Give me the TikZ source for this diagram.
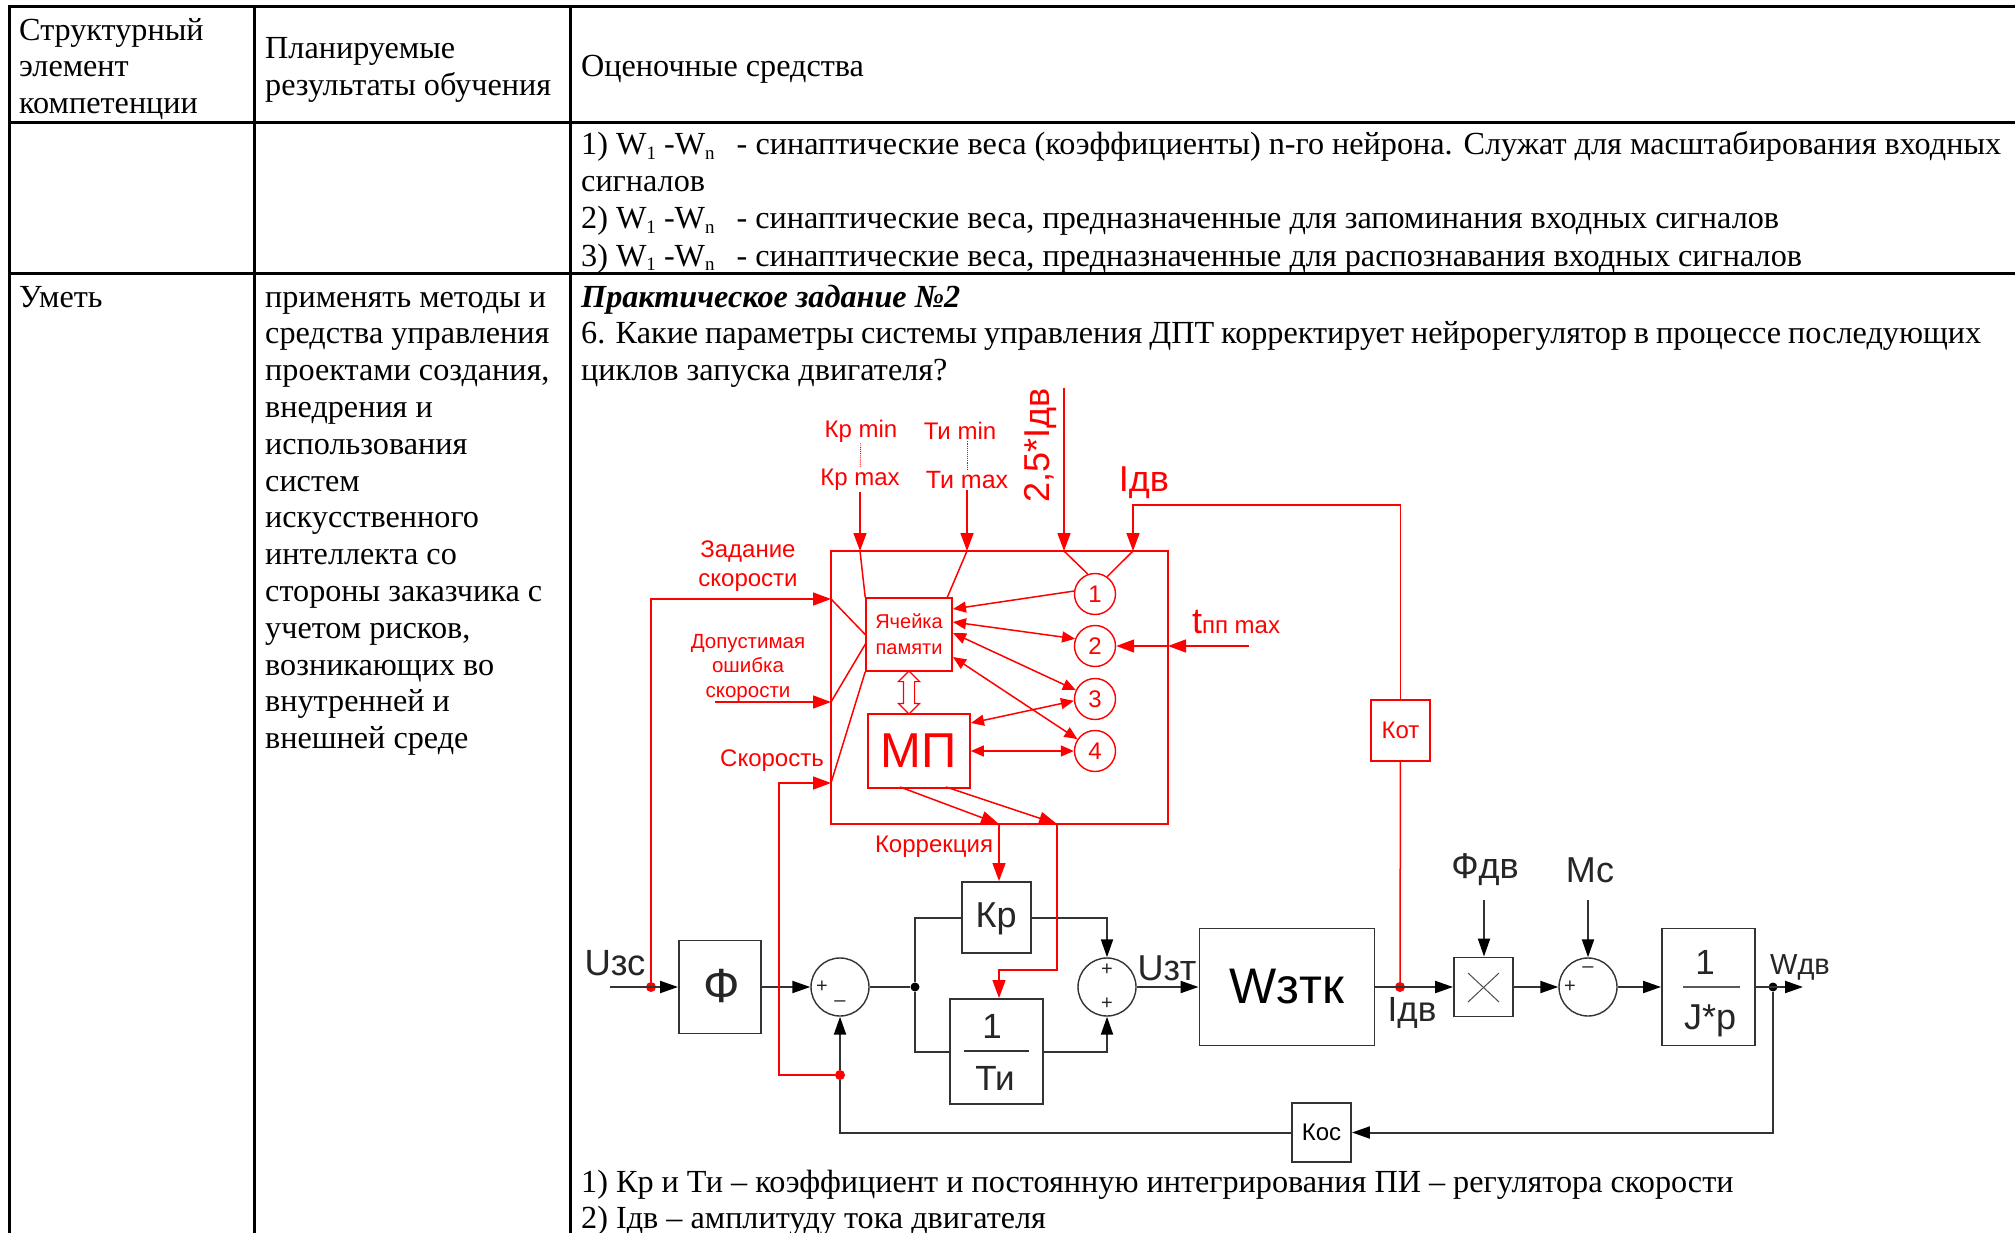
\documentclass[tikz,border=0pt]{standalone}
\usepackage{fontspec}
\setmainfont{Liberation Serif}
\setsansfont{Liberation Sans}
\usepackage{tikz}
\usetikzlibrary{arrows.meta,shapes.arrows}
\newcommand{\sz}[1]{\fontsize{#1}{37}\selectfont}
\newcommand{\subidx}[1]{\raisebox{-5pt}{\fontsize{19}{19}\selectfont #1}}
\newcommand{\wrange}{W\subidx{1} -W\subidx{n}\hspace{22pt}}
\tikzset{
	tbl/.style={anchor=base west, inner sep=0pt, font=\sz{32.2}},
	tableline/.style={line width=3pt, black},
	lbl/.style={inner sep=1pt, font=\sffamily\fontsize{#1}{29}\selectfont, text=black!85},
	rlbl/.style={inner sep=1pt, font=\sffamily\fontsize{#1}{29}\selectfont, text=red, align=center},
	block/.style={draw=black!80, line width=1.9pt, inner sep=0pt},
	rblock/.style={draw=red, line width=1.6pt, inner sep=0pt},
	summer/.style={draw=black!80, line width=1.4pt, circle, inner sep=0pt, minimum size=58pt},
	rcircle/.style={draw=red, line width=1.4pt, circle, inner sep=0pt, minimum size=41pt, text=red, font=\sffamily\fontsize{24}{29}\selectfont},
	blackdot/.style={circle, fill=black, inner sep=0pt, minimum size=9pt},
	reddot/.style={circle, fill=red, inner sep=0pt, minimum size=10pt},
	line/.style={draw=black!80, line width=2pt},
	wire/.style={line, -{Triangle[length=18pt,width=12pt,color=black]}},
	rline/.style={draw=red, line width=1.5pt},
	rwire/.style={rline, -{Triangle[length=18pt,width=13pt]}},
	rboth/.style={rline, {Triangle[length=13pt,width=11pt]}-{Triangle[length=13pt,width=11pt]}},
	rin/.style={rline, -{Triangle[length=13pt,width=11pt]}},
	rdots/.style={draw=red, line width=0.9pt, densely dotted}
}

\begin{document}
\begin{tikzpicture}[x=1pt, y=-1pt]
	\useasboundingbox (0,0) rectangle (2015,1233);

	% Table rules
	\foreach \y in {7,123,274}
		\draw[tableline] (8,\y) -- (2015,\y);
	\foreach \x in {9,254,570}
		\draw[tableline] (\x,7) -- (\x,1233);

	% Header row
	\node[tbl] (heada) at (19,41) {Структурный};
	\node[tbl] (headb) at (19,77) {элемент};
	\node[tbl] (headc) at (19,114) {компетенции};
	\node[tbl] (headd) at (265,59) {Планируемые};
	\node[tbl] (heade) at (265,96) {результаты обучения};
	\node[tbl] (headf) at (581,77) {Оценочные средства};

	% Answers of the previous question
	\node[tbl] (ansa) at (581,155) {\makebox[1420pt][s]{1) \wrange - синаптические веса (коэффициенты) n-го нейрона. Служат для масштабирования входных}};
	\node[tbl] (ansb) at (581,192) {сигналов};
	\node[tbl] (ansc) at (581,229) {2) \wrange - синаптические веса, предназначенные для запоминания входных сигналов};
	\node[tbl] (ansd) at (581,266) {3) \wrange - синаптические веса, предназначенные для распознавания входных сигналов};

	% Left columns of the last row
	\node[tbl] (skill) at (19,307) {Уметь};
	\foreach \txt [count=\i] in {применять методы и, средства управления, {проектами создания,}, внедрения и, использования, систем, искусственного, интеллекта со, стороны заказчика с, {учетом рисков,}, возникающих во, внутренней и, внешней среде}
		\node[tbl] (goal\i) at (265,{307+36.8*(\i-1)}) {\txt};

	% Question text
	\node[tbl] (taskhead) at (581,307) {\textbf{\textit{Практическое задание №2}}};
	\node[tbl] (taska) at (581,343) {\makebox[1400pt][s]{6. Какие параметры системы управления ДПТ корректирует нейрорегулятор в процессе последующих}};
	\node[tbl] (taskb) at (581,380) {циклов запуска двигателя?};
	\node[tbl] (repla) at (581,1192) {1) Кр и Ти – коэффициент и постоянную интегрирования ПИ – регулятора скорости};
	\node[tbl] (replb) at (581,1228) {2) Iдв – амплитуду тока двигателя};

	% Black control loop
	\node[block, minimum width=82pt, minimum height=93pt] (phi) at (720,987) {};
	\node[lbl=48] (phitxt) at (722,986) {Ф};
	\node[summer] (sa) at (840,987) {};
	\node[lbl=20] (saplus) at (822,987) {+};
	\node[lbl=20] (saminus) at (840,1004) {–};
	\node[block, minimum width=69pt, minimum height=71pt] (kr) at (996.5,917.5) {};
	\node[lbl=36] (krtxt) at (996,919) {Кр};
	\node[block, minimum width=93pt, minimum height=105pt] (ti) at (996.5,1051.5) {};
	\node[lbl=35] (tinum) at (992,1026) {1};
	\node[lbl=35] (tiden) at (995,1078) {Ти};
	\draw[line] (964,1051) -- (1029,1051);
	\node[summer] (sb) at (1107,987) {};
	\node[lbl=20] (sbplusa) at (1107,970) {+};
	\node[lbl=20] (sbplusb) at (1107,1004) {+};
	\node[block, minimum width=175pt, minimum height=117pt, font=\sffamily\fontsize{50}{56}\selectfont] (wzt) at (1287,987) {Wзтк};
	\node[block, minimum width=59pt, minimum height=59pt] (mult) at (1483.5,987) {};
	\draw[draw=black!70, line width=1pt] (1468,973) -- (1499,1002);
	\draw[draw=black!70, line width=1pt] (1499,973) -- (1468,1002);
	\node[summer] (sc) at (1588,987) {};
	\node[lbl=20] (scplus) at (1570,987) {+};
	\node[lbl=20] (scminus) at (1588,970) {–};
	\node[block, minimum width=93pt, minimum height=117pt] (intg) at (1708.5,987) {};
	\node[lbl=35] (intnum) at (1705,962) {1};
	\node[lbl=36] (intden) at (1710,1021) {J*p};
	\draw[line, line width=2.4pt, draw=black!65] (1683,987) -- (1740,987);
	\node[block, minimum width=59pt, minimum height=59pt, font=\sffamily\fontsize{24}{29}\selectfont] (kos) at (1321.5,1132.5) {Кос};

	\node[lbl=36.5] (uzs) at (615,963) {Uзс};
	\node[lbl=36] (uzt) at (1167,968) {Uзт};
	\node[lbl=35] (idvb) at (1412,1013) {Iдв};
	\node[lbl=36] (fdv) at (1485,870) {Фдв};
	\node[lbl=36] (mc) at (1590,870) {Мс};
	\node[lbl=29] (wdv) at (1800,967) {Wдв};

	\node[reddot] (dotin) at (651,987) {};
	\node[blackdot] (dotsplit) at (915,987) {};
	\node[reddot] (dotcur) at (1400,987) {};
	\node[blackdot] (dotout) at (1773,987) {};
	\node[reddot] (dotfb) at (840,1075) {};
	\coordinate (uin) at (610,987);
	\coordinate (wout) at (1803,987);
	\coordinate (fdvin) at (1484,900);
	\coordinate (mcin) at (1588,900);

	\draw[wire] (uin) -- (phi);
	\draw[wire] (phi) -- (sa);
	\draw[line] (sa) -- (dotsplit);
	\draw[line] (dotsplit) |- (kr);
	\draw[line] (dotsplit) |- (ti);
	\draw[wire] (kr) -| (sb);
	\draw[wire] (ti) -| (sb);
	\draw[wire] (sb) -- (wzt);
	\draw[wire] (wzt) -- (mult);
	\draw[wire] (mult) -- (sc);
	\draw[wire] (sc) -- (intg);
	\draw[wire] (intg) -- (wout);
	\draw[wire] (fdvin) -- (fdvin |- mult.north);
	\draw[wire] (mcin) -- (sc);
	\draw[wire] (dotout) |- (kos);
	\draw[line] (kos) -| (dotfb);
	\draw[wire] (dotfb) -- (sa);

	% Red neuroregulator frame
	\node[rblock, minimum width=337pt, minimum height=273pt] (ctrl) at (999.5,687.5) {};
	\node[rblock, minimum width=86pt, minimum height=73pt, text=red, font=\sffamily\fontsize{20}{29}\selectfont, align=center] (cell) at (909,634.5) {Ячейка\\[-3pt]памяти};
	\node[rblock, minimum width=102pt, minimum height=74pt, text=red, font=\sffamily\fontsize{49}{56}\selectfont] (mp) at (919,751) {МП};
	\node[rcircle] (ca) at (1095,594) {1};
	\node[rcircle] (cb) at (1095,646) {2};
	\node[rcircle] (cc) at (1095,699) {3};
	\node[rcircle] (cd) at (1095,751) {4};
	\node[rblock, minimum width=59pt, minimum height=61pt, text=red, font=\sffamily\fontsize{24}{29}\selectfont] (kot) at (1400.5,730.5) {Кот};
	\node[double arrow, draw=red, line width=1.2pt, fill=white, rotate=90, inner xsep=0pt, inner ysep=5pt, minimum height=43pt, double arrow head extend=5pt] (memlink) at (909,692.5) {};

	% Red labels
	\node[rlbl=24] (krmin) at (861,431) {Кр min};
	\node[rlbl=24] (krmax) at (860,480) {Кр max};
	\node[rlbl=24] (timin) at (960,431) {Ти min};
	\node[rlbl=25] (timax) at (967,480) {Ти max};
	\node[rlbl=36, rotate=90] (ilim) at (1041,445) {2,5*Iдв};
	\node[rlbl=36] (idva) at (1144,483) {Iдв};
	\node[rlbl=24] (spset) at (748,566) {Задание\\скорости};
	\node[rlbl=20.5] (errset) at (748,668) {Допустимая\\[-4.5pt]ошибка\\[-4.5pt]скорости};
	\node[rlbl=24] (speed) at (772,761) {Скорость};
	\node[rlbl=24] (tpp) at (1236,622) {{\fontsize{36}{29}\selectfont t}пп max};
	\node[rlbl=24] (correct) at (934,847) {Коррекция};

	% Free ends of the red connectors
	\coordinate (krin) at (860,551);
	\coordinate (tiin) at (967,551);
	\coordinate (tiout) at (947,598);
	\coordinate (limtop) at (1064,388);
	\coordinate (limin) at (1064,551);
	\coordinate (idvcorner) at (1133,505);
	\coordinate (idvin) at (1133,551);
	\coordinate (spcorner) at (651,599);
	\coordinate (spin) at (831,599);
	\coordinate (errstart) at (715,702);
	\coordinate (errin) at (831,702);
	\coordinate (errout) at (866,643);
	\coordinate (speedcorner) at (779,783);
	\coordinate (speedin) at (831,783);
	\coordinate (tppstart) at (1249,646);
	\coordinate (tppin) at (1168,646);
	\coordinate (cella) at (953,609);
	\coordinate (cellb) at (953,622);
	\coordinate (cellc) at (953,633);
	\coordinate (celld) at (953,657);
	\coordinate (mpa) at (971,723);
	\coordinate (mpouta) at (900,787);
	\coordinate (mpoutb) at (946,787);
	\coordinate (cora) at (999,824);
	\coordinate (corb) at (1057,824);
	\coordinate (corc) at (999,970);

	% Inputs of the frame
	\draw[rdots] (krmin) -- (krmax);
	\draw[rdots] (timax.north) -- (timax.north |- timin.south);
	\draw[rwire] (krmax) -- (krin);
	\draw[rwire] (timax) -- (tiin);
	\draw[rwire] (limtop) -- (limin);
	\draw[rline] (dotcur) -- (kot);
	\draw[rwire] (kot) |- (idvcorner) -- (idvin);
	\draw[rwire] (dotin) |- (spcorner) -- (spin);
	\draw[rwire] (errstart) -- (errin);
	\draw[rwire] (dotfb) -| (speedcorner) -- (speedin);
	\draw[rwire] (tppstart) -- (tppin);
	\draw[rwire] (tppin) -- (cb);

	% Fan-in inside the frame
	\draw[rline] (krin) -- (cell.north west);
	\draw[rline] (tiin) -- (tiout);
	\draw[rline] (limin) -- (ca.110);
	\draw[rline] (idvin) -- (ca.55);
	\draw[rline] (spin) -- (cell.west);
	\draw[rline] (errin) -- (errout);
	\draw[rline] (speedin) -- (cell.south west);

	% Links between the circles, the cell and the processor
	\draw[rin] (ca.172) -- (cella);
	\draw[rboth] (cb.160) -- (cellb);
	\draw[rboth] (cc.155) -- (cellc);
	\draw[rboth] (cd.146) -- (celld);
	\draw[rboth] (cc.185) -- (mpa);
	\draw[rboth] (cd) -- (mp);

	% Correction outputs
	\draw[rwire] (mpouta) -- (cora);
	\draw[rwire] (mpoutb) -- (corb);
	\draw[rwire] (cora) -- (cora |- kr.north);
	\draw[rwire] (corb) |- (corc) -- (corc |- ti.north);
\end{tikzpicture}
\end{document}
